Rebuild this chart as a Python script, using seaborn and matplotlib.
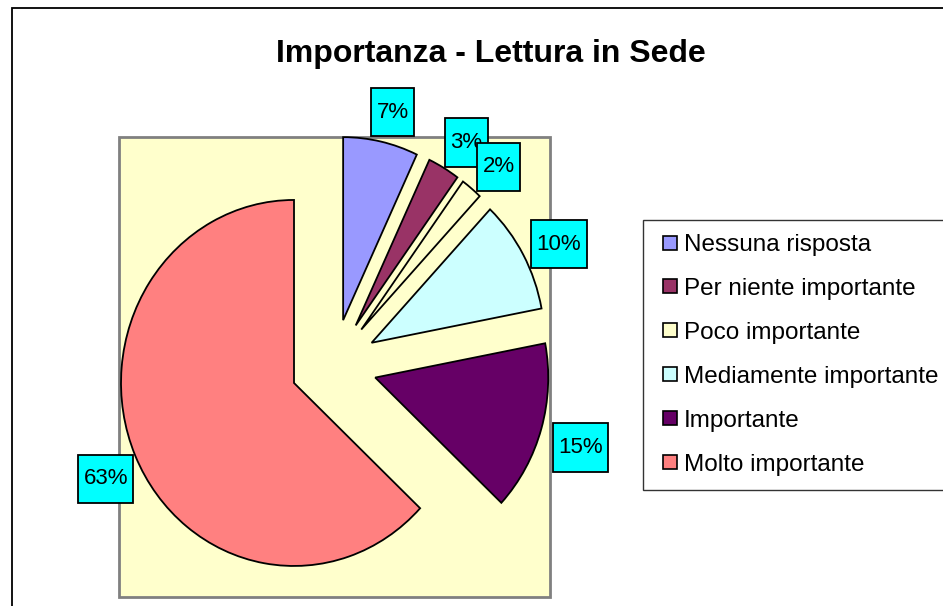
import matplotlib
matplotlib.use("Agg")
import matplotlib.pyplot as plt
import matplotlib.patches as mpatches
from matplotlib.lines import Line2D
from matplotlib.transforms import offset_copy
import seaborn as sns

# data
categories = ["Nessuna risposta", "Per niente importante", "Poco importante",
              "Mediamente importante", "Importante", "Molto importante"]
percentages = [7, 3, 2, 10, 15, 63]
colors = ["#9999FF", "#993366", "#FFFFCC", "#CCFFFF", "#660066", "#FF8080"]

sns.set_theme(style="white")
plt.rcParams['font.family'] = ['Liberation Sans', 'DejaVu Sans']
plt.rcParams['text.color'] = 'black'

W, H = 943, 606
fig = plt.figure(figsize=(W / 100, H / 100), dpi=100)
fig.patch.set_facecolor("white")

ax = fig.add_axes([0, 0, 1, 1])

# outer chart frame (runs off the right and bottom edges)
ax.add_patch(mpatches.Rectangle((12 / W, -0.1), 1.2, 1 - 8 / H + 0.1,
                                transform=fig.transFigure, fill=False,
                                ec="black", lw=1.3, zorder=0))
# plot area
ax.add_patch(mpatches.Rectangle((119 / W, 1 - 597 / H), (550 - 119) / W, (597 - 137) / H,
                                transform=fig.transFigure, fc="#FFFFCC",
                                ec="#808080", lw=2, zorder=0))

wedges, texts, autotexts = ax.pie(
    percentages, colors=colors, explode=[0.25] * len(percentages),
    startangle=90, counterclock=False, autopct="%.0f%%", pctdistance=1.21,
    wedgeprops=dict(edgecolor="black", linewidth=1.3),
    textprops=dict(fontsize=16, color="black"))

for t in autotexts:
    t.set_bbox(dict(boxstyle="square,pad=0.24", fc="#00FFFF", ec="black",
                    lw=1.3, mutation_aspect=2.6))
    # labels sit a little lower/right than the plain pctdistance spot
    t.set_transform(offset_copy(t.get_transform(), fig=fig, x=4, y=-8, units="dots"))

# pixel mapping: pie is slightly taller than wide (173 x 183 px radii)
rx, ry = 173, 183
cx, cy = 333.7, 364.8
ax.set_xlim(-cx / rx, (W - cx) / rx)
ax.set_ylim(-(H - cy) / ry, cy / ry)
ax.set_aspect("auto")
ax.axis("off")

fig.text(491 / W, 1 - 54 / H, "Importanza - Lettura in Sede", ha="center", va="center",
         fontsize=23, fontweight="bold", color="black")

handles = [Line2D([], [], ls="none", marker="s", markersize=10.5, markerfacecolor=c,
                  markeredgecolor="black", markeredgewidth=1.2) for c in colors]
leg = ax.legend(handles, categories, loc="upper left",
                bbox_to_anchor=(643 / W, 1 - 220 / H), bbox_transform=fig.transFigure,
                borderaxespad=0, frameon=True, fancybox=False, edgecolor="black",
                fontsize=17.5, labelspacing=0.9, handlelength=1.1, handletextpad=0.0,
                borderpad=0.58)
leg.get_frame().set_linewidth(1.0)
leg.get_frame().set_facecolor("white")

fig.savefig("out.png", dpi=100)
